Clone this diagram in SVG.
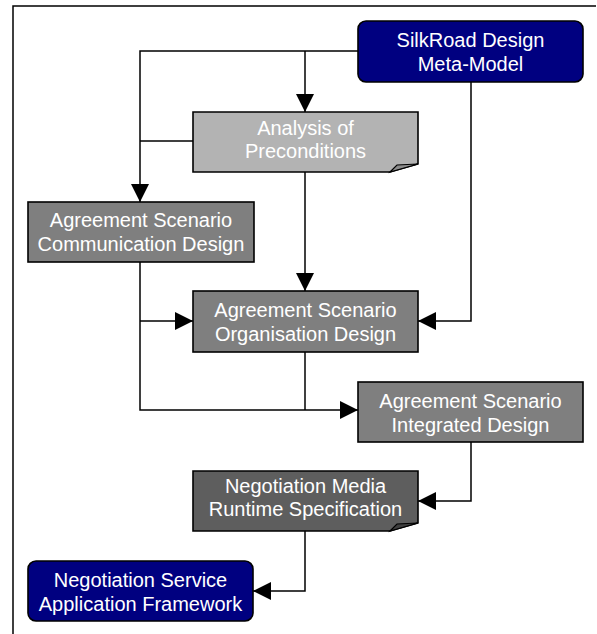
<svg xmlns="http://www.w3.org/2000/svg" width="597" height="634" viewBox="0 0 597 634">
  <style>
    .frame { fill: none; stroke: #000; stroke-width: 1.5; }
    .link { fill: none; stroke: #000; stroke-width: 1.5; }
    .box { stroke: #000; stroke-width: 1.6; }
    .navy { fill: #000080; }
    .light { fill: #b3b3b3; }
    .mid { fill: #7f7f7f; }
    .dark { fill: #5e5e5e; }
    .flap { stroke: #000; stroke-width: 1.2; }
    text { font-family: "Liberation Sans", Arial, sans-serif; font-size: 20px; fill: #fff; text-anchor: middle; }
  </style>
  <defs>
    <marker id="arrow" markerUnits="userSpaceOnUse" markerWidth="19" markerHeight="19" refX="18" refY="9" orient="auto">
      <path d="M0,0 L18,9 L0,18 Z" fill="#000"/>
    </marker>
  </defs>

  <!-- page frame (left and top rules) -->
  <path class="frame" d="M13,634 V6 H596"/>

  <!-- connectors -->
  <g id="connectors">
    <path class="link" d="M358,51 H140 V202" marker-end="url(#arrow)"/>
    <path class="link" d="M305,51 V112" marker-end="url(#arrow)"/>
    <path class="link" d="M193,141 H140"/>
    <path class="link" d="M305,172 V291" marker-end="url(#arrow)"/>
    <path class="link" d="M471,82 V321 H418" marker-end="url(#arrow)"/>
    <path class="link" d="M140,262 V410 H358" marker-end="url(#arrow)"/>
    <path class="link" d="M140,321 H193" marker-end="url(#arrow)"/>
    <path class="link" d="M305,352 V410"/>
    <path class="link" d="M471,442 V501 H418" marker-end="url(#arrow)"/>
    <path class="link" d="M305,531 V591 H253" marker-end="url(#arrow)"/>
  </g>

  <g id="silkroad-meta-model">
    <rect class="box navy" x="358" y="21" width="225" height="61" rx="8" ry="8"/>
    <text x="470.5" y="47">SilkRoad Design</text>
    <text x="470.5" y="71">Meta-Model</text>
  </g>

  <g id="analysis-of-preconditions">
    <path class="box light" d="M193,112 H418 V164 L390,172 H193 Z"/>
    <path class="flap" d="M390,172 L397,165 L418,164 Z" fill="#8c8c8c"/>
    <text x="305.5" y="135">Analysis of</text>
    <text x="305.5" y="158">Preconditions</text>
  </g>

  <g id="communication-design">
    <rect class="box mid" x="28" y="202" width="226" height="60"/>
    <text x="141" y="227">Agreement Scenario</text>
    <text x="141" y="251">Communication Design</text>
  </g>

  <g id="organisation-design">
    <rect class="box mid" x="193" y="291" width="225" height="61"/>
    <text x="305.5" y="317">Agreement Scenario</text>
    <text x="305.5" y="341">Organisation Design</text>
  </g>

  <g id="integrated-design">
    <rect class="box mid" x="358" y="382" width="225" height="60"/>
    <text x="470.5" y="408">Agreement Scenario</text>
    <text x="470.5" y="432">Integrated Design</text>
  </g>

  <g id="runtime-specification">
    <path class="box dark" d="M193,471 H418 V523 L390,531 H193 Z"/>
    <path class="flap" d="M390,531 L397,524 L418,523 Z" fill="#3f3f3f"/>
    <text x="305.5" y="493">Negotiation Media</text>
    <text x="305.5" y="516">Runtime Specification</text>
  </g>

  <g id="application-framework">
    <rect class="box navy" x="28" y="561" width="225" height="60" rx="8" ry="8"/>
    <text x="140.5" y="587">Negotiation Service</text>
    <text x="140.5" y="611">Application Framework</text>
  </g>
</svg>
